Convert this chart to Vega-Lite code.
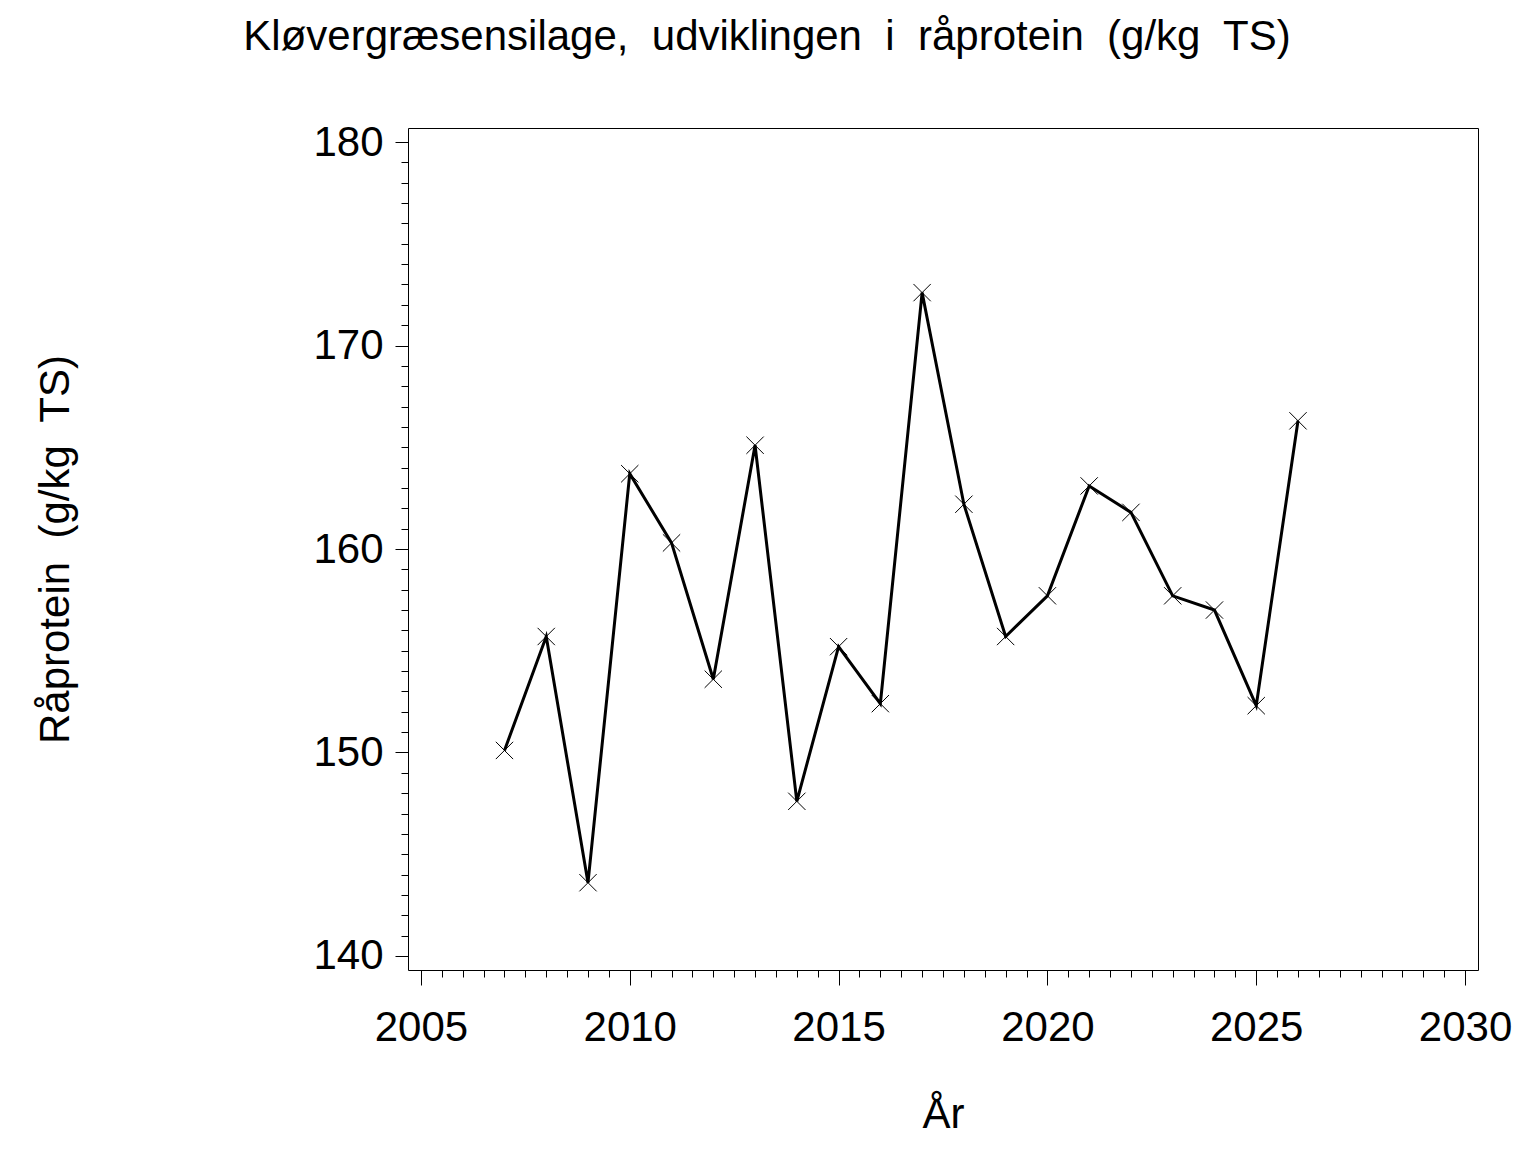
{
  "$schema": "https://vega.github.io/schema/vega-lite/v6.json",
  "autosize": "none",
  "width": 1070,
  "height": 842,
  "padding": {"left": 408, "top": 128, "right": 58, "bottom": 182},
  "background": "white",
  "config": {
    "view": {"stroke": "black", "strokeWidth": 1},
    "font": "Liberation Sans"
  },
  "title": {
    "text": "Kløvergræsensilage,\u00a0 udviklingen\u00a0 i\u00a0 råprotein\u00a0 (g/kg\u00a0 TS)",
    "font": "Liberation Sans",
    "fontSize": 42,
    "fontWeight": "normal",
    "color": "black",
    "anchor": "middle",
    "dx": -176,
    "offset": 62
  },
  "data": {
    "values": [
      {"year": 2007, "protein": 150.1},
      {"year": 2008, "protein": 155.7},
      {"year": 2009, "protein": 143.6},
      {"year": 2010, "protein": 163.7},
      {"year": 2011, "protein": 160.3},
      {"year": 2012, "protein": 153.6},
      {"year": 2013, "protein": 165.1},
      {"year": 2014, "protein": 147.6},
      {"year": 2015, "protein": 155.2},
      {"year": 2016, "protein": 152.4},
      {"year": 2017, "protein": 172.6},
      {"year": 2018, "protein": 162.2},
      {"year": 2019, "protein": 155.7},
      {"year": 2020, "protein": 157.7},
      {"year": 2021, "protein": 163.1},
      {"year": 2022, "protein": 161.8},
      {"year": 2023, "protein": 157.7},
      {"year": 2024, "protein": 157.0},
      {"year": 2025, "protein": 152.3},
      {"year": 2026, "protein": 166.3}
    ]
  },
  "encoding": {
    "x": {
      "field": "year",
      "type": "quantitative",
      "scale": {"domain": [2004.69, 2030.31], "nice": false, "zero": false},
      "axis": {
        "title": "År",
        "titleFont": "Liberation Sans",
        "titleFontSize": 42,
        "titleFontWeight": "normal",
        "titleColor": "black",
        "titlePadding": 46,
        "tickCount": 200,
        "values": [2005, 2005.5, 2006, 2006.5, 2007, 2007.5, 2008, 2008.5, 2009, 2009.5, 2010, 2010.5, 2011, 2011.5, 2012, 2012.5, 2013, 2013.5, 2014, 2014.5, 2015, 2015.5, 2016, 2016.5, 2017, 2017.5, 2018, 2018.5, 2019, 2019.5, 2020, 2020.5, 2021, 2021.5, 2022, 2022.5, 2023, 2023.5, 2024, 2024.5, 2025, 2025.5, 2026, 2026.5, 2027, 2027.5, 2028, 2028.5, 2029, 2029.5, 2030],
        "labelExpr": "datum.value % 5 === 0 ? format(datum.value, 'd') : ''",
        "labelOverlap": false,
        "labelFont": "Liberation Sans",
        "labelFontSize": 42,
        "labelColor": "black",
        "labelPadding": 22,
        "domain": false,
        "grid": false,
        "tickColor": "black",
        "tickWidth": 1,
        "tickSize": {"condition": {"test": "datum.value % 5 === 0", "value": 15}, "value": 7}
      }
    },
    "y": {
      "field": "protein",
      "type": "quantitative",
      "scale": {"domain": [139.31, 180.69], "nice": false, "zero": false},
      "axis": {
        "title": "Råprotein\u00a0 (g/kg\u00a0 TS)",
        "titleFont": "Liberation Sans",
        "titleFontSize": 42,
        "titleFontWeight": "normal",
        "titleColor": "black",
        "titlePadding": 235,
        "tickCount": 200,
        "values": [140, 141, 142, 143, 144, 145, 146, 147, 148, 149, 150, 151, 152, 153, 154, 155, 156, 157, 158, 159, 160, 161, 162, 163, 164, 165, 166, 167, 168, 169, 170, 171, 172, 173, 174, 175, 176, 177, 178, 179, 180],
        "labelExpr": "datum.value % 10 === 0 ? format(datum.value, 'd') : ''",
        "labelOverlap": false,
        "labelFont": "Liberation Sans",
        "labelFontSize": 42,
        "labelColor": "black",
        "labelPadding": 12,
        "domain": false,
        "grid": false,
        "tickColor": "black",
        "tickWidth": 1,
        "tickSize": {"condition": {"test": "datum.value % 10 === 0", "value": 13}, "value": 7}
      }
    }
  },
  "layer": [
    {
      "mark": {"type": "line", "color": "black", "strokeWidth": 3}
    },
    {
      "mark": {
        "type": "point",
        "shape": "M -1 -1 L 1 1 M -1 1 L 1 -1",
        "filled": false,
        "stroke": "black",
        "strokeWidth": 1,
        "size": 300,
        "opacity": 1
      }
    }
  ]
}
